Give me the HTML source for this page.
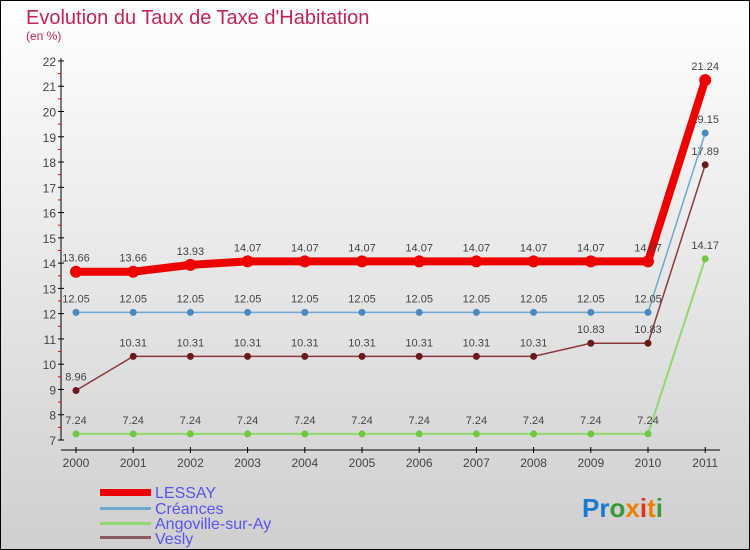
<!DOCTYPE html>
<html><head><meta charset="utf-8"><style>
body{margin:0;width:750px;height:550px;overflow:hidden}
svg{display:block}
text{font-family:"Liberation Sans",sans-serif}
</style></head><body>
<svg id="c" width="750" height="550">
<defs><linearGradient id="bg" x1="0" y1="0" x2="0" y2="1"><stop offset="0" stop-color="#ffffff"/><stop offset="1" stop-color="#cfcfcf"/></linearGradient></defs>
<rect x="0.5" y="0.5" width="749" height="549" fill="url(#bg)" stroke="#000"/>
<text x="26" y="24" font-size="20" fill="#c0245a">Evolution du Taux de Taxe d'Habitation</text>
<text x="26" y="40" font-size="12" fill="#c0245a">(en %)</text>
<g id="axes"></g><g id="series"></g>
<g>
<rect x="100" y="489" width="51" height="7" fill="#e00"/>
<text x="155" y="498" font-size="16" fill="#5555ee">LESSAY</text>
<rect x="100" y="507" width="51" height="3" fill="#6fa8d0"/>
<text x="155" y="514" font-size="16" fill="#5555ee">Créances</text>
<rect x="100" y="522" width="51" height="3" fill="#90d870"/>
<text x="155" y="529" font-size="16" fill="#5555ee">Angoville-sur-Ay</text>
<rect x="100" y="536" width="51" height="3" fill="#8b5a5a"/>
<text x="155" y="544" font-size="16" fill="#5555ee">Vesly</text>
</g>
<text x="582" y="517" font-size="26" font-weight="bold"><tspan fill="#1a7ad0">Pr</tspan><tspan fill="#3a9a3a">o</tspan><tspan fill="#f08000">x</tspan><tspan fill="#e03020">i</tspan><tspan fill="#f08000">t</tspan><tspan fill="#3a9a3a">i</tspan></text>
</svg>
<script>
const years=[2000,2001,2002,2003,2004,2005,2006,2007,2008,2009,2010,2011];
const yTicks=[7,8,9,10,11,12,13,14,15,16,17,18,19,20,21,22];
const lessay=[13.66,13.66,13.93,14.07,14.07,14.07,14.07,14.07,14.07,14.07,14.07,21.24];
const creances=[12.05,12.05,12.05,12.05,12.05,12.05,12.05,12.05,12.05,12.05,12.05,19.15];
const angoville=[7.24,7.24,7.24,7.24,7.24,7.24,7.24,7.24,7.24,7.24,7.24,14.17];
const vesly=[8.96,10.31,10.31,10.31,10.31,10.31,10.31,10.31,10.31,10.83,10.83,17.89];
const NS="http://www.w3.org/2000/svg";
const X=i=>76+i*57.2, Y=v=>440-(v-7)*25.27;
function mk(t,a,p){const e=document.createElementNS(NS,t);for(const k in a)e.setAttribute(k,a[k]);p.appendChild(e);return e;}
const ax=document.getElementById('axes');
let l=mk('line',{x1:61,y1:58,x2:61,y2:440,stroke:'#000'},ax);


l=mk('line',{x1:61,y1:450,x2:720,y2:450,stroke:'#000'},ax);


yTicks.forEach(v=>{mk('line',{x1:58,x2:64,y1:Y(v),y2:Y(v),stroke:'#000'},ax);
 if(v<22)mk('line',{x1:58,x2:61,y1:Y(v+0.5),y2:Y(v+0.5),stroke:'#e00'},ax);
 const t=mk('text',{x:56,y:Y(v)+5,'font-size':12,fill:'#444','text-anchor':'end'},ax);t.textContent=v;
 
 });
years.forEach((y,i)=>{mk('line',{x1:X(i),x2:X(i),y1:447,y2:453,stroke:'#000'},ax);
 const t=mk('text',{x:X(i),y:467,'font-size':12,fill:'#444','text-anchor':'middle'},ax);t.textContent=y;
 
 });
const sg=document.getElementById('series');
function draw(d,col,w,r,dot,name){const g=mk('g',{},sg);
 
 
 mk('polyline',{points:d.map((v,i)=>X(i)+','+Y(v)).join(' '),fill:'none',stroke:col,'stroke-width':w},g);
 d.forEach((v,i)=>{const c=mk('circle',{cx:X(i),cy:Y(v),r:r,fill:dot},g);
  
  
  const t=mk('text',{x:X(i),y:Y(v)-10,'font-size':11,fill:'#444','text-anchor':'middle'},g);t.textContent=v.toFixed(2).replace(/0$/,'').replace(/\.$/,'');
  if(v.toFixed(2).endsWith('0')&&v%1!==0)t.textContent=v.toFixed(1);});}
draw(angoville,'#90d870',2,3.5,'#70c840','angoville');
draw(vesly,'#8b3a3a',1.5,3.5,'#6a1a1a','vesly');
draw(creances,'#6fa8d0',1.5,3.5,'#4a88c0','creances');
draw(lessay,'#e00',8,6,'#e00','lessay');
</script>
</body></html>
